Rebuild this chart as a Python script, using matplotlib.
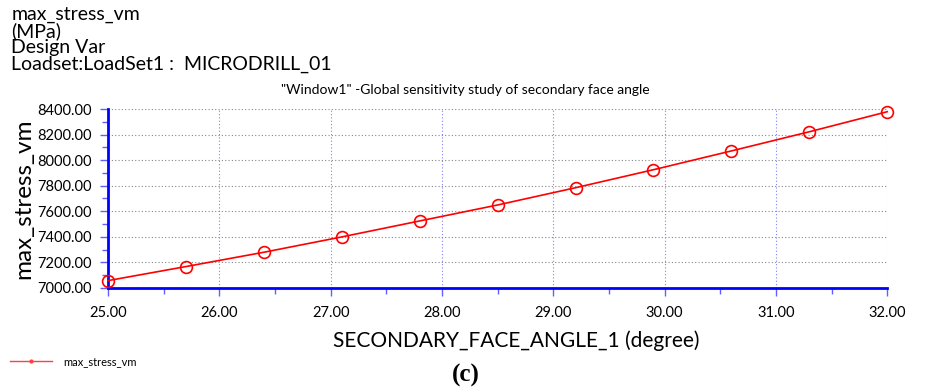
import matplotlib
matplotlib.use("Agg")
import matplotlib.pyplot as plt
from matplotlib.lines import Line2D
from matplotlib.ticker import MultipleLocator, FormatStrFormatter

plt.rcParams['font.family'] = ['Lato', 'DejaVu Sans']

# secondary face angle (degree) vs max von Mises stress (MPa)
angle = [25.0, 25.7, 26.4, 27.1, 27.8, 28.5, 29.2, 29.9, 30.6, 31.3, 32.0]
stress = [7057, 7167, 7279, 7399, 7524, 7649, 7784, 7925, 8072, 8222, 8379]

header = ["max_stress_vm", "(MPa)", "Design Var", "Loadset:LoadSet1 :  MICRODRILL_01"]
title = '"Window1" -Global sensitivity study of secondary face angle'

fig = plt.figure(figsize=(9.31, 3.88), dpi=100)
ax = fig.add_axes([0.116, 0.258, 0.837, 0.461])

ax.plot(angle, stress, color="red", lw=1.2, marker="o", markersize=8.5,
        markerfacecolor="none", markeredgecolor="red", markeredgewidth=1.2,
        clip_on=False, zorder=3)

ax.set_xlim(25, 32)
ax.set_ylim(7000, 8400)
ax.xaxis.set_major_locator(MultipleLocator(1))
ax.xaxis.set_minor_locator(MultipleLocator(0.5))
ax.yaxis.set_major_locator(MultipleLocator(200))
ax.yaxis.set_minor_locator(MultipleLocator(100))
ax.xaxis.set_major_formatter(FormatStrFormatter("%.2f"))
ax.yaxis.set_major_formatter(FormatStrFormatter("%.2f"))

for s in ["top", "right"]:
    ax.spines[s].set_visible(False)
for s in ["left", "bottom"]:
    ax.spines[s].set_color("blue")
    ax.spines[s].set_linewidth(2)

ax.tick_params(which="both", color="#6060ff", labelsize=10.5, width=1)
ax.tick_params(which="major", length=6)
ax.tick_params(which="minor", length=4)
ax.tick_params(axis="x", pad=7)
ax.tick_params(axis="y", pad=6)

ax.grid(axis="y", which="major", color="#888888", ls=(0, (1, 2)), lw=0.8)
ax.grid(axis="x", which="major", color="#8080ff", ls=(0, (1, 2)), lw=0.8)

fig.text(0.5, 0.768, title, fontsize=10, ha="center", va="center")
ax.set_ylabel("max_stress_vm", fontsize=17.5, labelpad=2)
ax.set_xlabel("SECONDARY_FACE_ANGLE_1 (degree)", fontsize=15)
ax.xaxis.set_label_coords(0.524, -0.24)

for i, line in enumerate(header):
    fig.text(0.012, 0.985 - i * 0.043, line, fontsize=14, va="top", ha="left",
             linespacing=1.0)

handle = Line2D([], [], color="#ff4040", lw=1, marker="o", markersize=2)
fig.legend([handle], ["max_stress_vm"], loc="center left",
           bbox_to_anchor=(0.0, 0.068), frameon=False, fontsize=8,
           handlelength=3.8, handletextpad=1.0)

fig.text(0.5, 0.032, "(c)", fontsize=18, fontweight="bold",
         family="Liberation Serif", ha="center", va="center")

fig.savefig("out.png", dpi=100)
